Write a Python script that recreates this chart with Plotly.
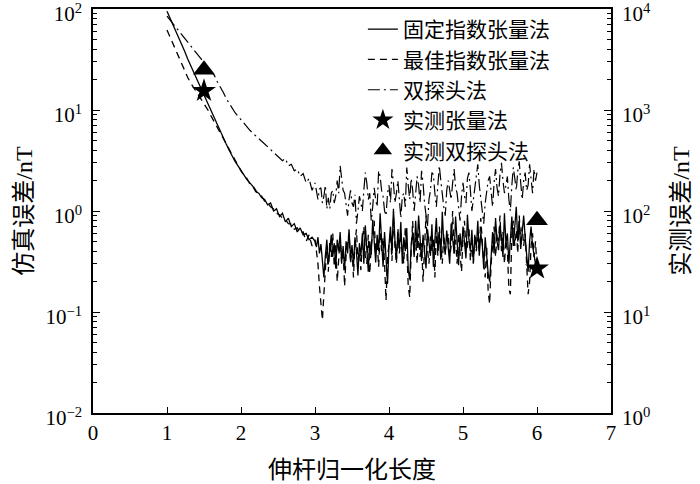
import plotly.graph_objects as go

# x grid: normalized boom length (coarse on the smooth part, fine on the noisy part)
x_smooth = [round(1 + 0.04 * i, 2) for i in range(50)]      # 1.00 .. 2.96
x_noisy = [round(3 + 0.02 * i, 2) for i in range(151)]      # 3.00 .. 6.00
x_vals = x_smooth + x_noisy

fixed_smooth = [
    95, 82, 70, 60, 52, 44, 38, 32, 27.5, 23.5,
    20.5, 17.5, 15.2, 13.0, 11.2, 9.6, 8.3, 7.1, 6.1, 5.3,
    4.6, 4.0, 3.5, 3.1, 2.8, 2.5, 2.3, 2.05, 1.9, 1.75,
    1.55, 1.5, 1.35, 1.3, 1.15, 1.2, 1.0, 1.05, 0.88, 0.95,
    0.78, 0.85, 0.7, 0.75, 0.62, 0.68, 0.58, 0.6, 0.52, 0.55,
]
fixed_noisy = [
    0.5, 0.44, 0.55, 0.38, 0.47, 0.33, 0.22, 0.36, 0.52, 0.3,
    0.42, 0.58, 0.35, 0.48, 0.27, 0.52, 0.4, 0.62, 0.31, 0.45,
    0.26, 0.5, 0.38, 0.66, 0.34, 0.46, 0.29, 0.55, 0.4, 0.23,
    0.48, 0.36, 0.6, 0.3, 0.72, 0.42, 0.25, 0.5, 0.37, 0.82,
    0.44, 0.31, 0.58, 0.4, 0.95, 0.5, 0.28, 0.62, 0.35, 0.19,
    0.46, 0.7, 0.38, 1.05, 0.52, 0.33, 0.6, 0.42, 0.78, 0.3,
    0.55, 0.4, 0.68, 0.26, 0.21, 0.47, 0.62, 0.35, 0.8, 0.43,
    0.9, 0.5, 0.32, 0.58, 0.41, 0.27, 0.66, 0.45, 0.36, 0.74,
    0.28, 0.52, 0.85, 0.4, 0.6, 0.33, 0.98, 0.48, 0.37, 0.64,
    0.42, 0.3, 0.75, 0.5, 0.38, 0.88, 0.46, 0.29, 0.6, 0.4,
    0.7, 0.45, 0.34, 0.92, 0.52, 0.4, 0.65, 0.31, 0.56, 0.43,
    0.8, 0.36, 0.6, 0.47, 0.27, 0.55, 0.33, 0.24, 0.2, 0.42,
    0.62, 0.38, 0.85, 0.5, 0.41, 0.72, 0.55, 0.35, 0.95, 0.48,
    0.6, 0.3, 0.52, 0.88, 0.45, 0.7, 1.1, 0.5, 0.78, 0.42,
    0.65, 0.9, 0.55, 0.36, 0.25, 0.5, 0.7, 0.45, 0.38, 0.3,
    0.28,
]

best_smooth = [
    62, 53, 45, 38, 33, 28, 24, 21, 18.5, 16.5,
    15, 13.5, 12.2, 11.0, 9.8, 8.6, 7.6, 6.7, 5.9, 5.2,
    4.6, 4.0, 3.5, 3.1, 2.75, 2.5, 2.25, 2.1, 1.85, 1.78,
    1.6, 1.45, 1.4, 1.25, 1.2, 1.1, 1.05, 0.95, 0.92, 0.85,
    0.82, 0.75, 0.74, 0.66, 0.68, 0.6, 0.62, 0.5, 0.58, 0.45,
]
best_noisy = [
    0.52, 0.4, 0.3, 0.18, 0.12, 0.083, 0.15, 0.3, 0.45, 0.25,
    0.5, 0.35, 0.6, 0.28, 0.46, 0.2, 0.38, 0.55, 0.3, 0.42,
    0.18, 0.36, 0.5, 0.6, 0.3, 0.42, 0.22, 0.48, 0.66, 0.33,
    0.4, 0.26, 0.52, 0.7, 0.35, 0.3, 0.58, 0.24, 0.45, 0.6,
    0.8, 0.38, 0.5, 0.28, 0.62, 0.4, 0.55, 0.3, 0.13, 0.35,
    0.5, 0.62, 0.32, 0.9, 0.45, 0.3, 0.68, 0.38, 0.55, 0.42,
    0.3, 0.7, 0.45, 0.18, 0.14, 0.4, 0.8, 0.36, 0.55, 0.3,
    0.6, 0.35, 0.48, 0.2, 0.5, 0.9, 0.42, 0.3, 0.56, 0.4,
    0.55, 0.22, 0.68, 0.36, 0.7, 0.45, 0.3, 0.6, 0.4, 0.5,
    0.6, 0.35, 0.45, 1.0, 0.38, 0.52, 0.3, 0.6, 0.42, 0.25,
    0.55, 0.8, 0.4, 0.45, 0.7, 0.32, 0.5, 0.3, 0.6, 0.4,
    0.55, 0.4, 0.85, 0.48, 0.3, 0.22, 0.45, 0.16, 0.12, 0.3,
    0.45, 0.7, 0.35, 0.6, 0.5, 0.9, 0.4, 0.62, 0.3, 0.52,
    0.4, 0.17, 0.15, 0.6, 0.8, 0.45, 0.65, 0.38, 0.9, 0.5,
    0.7, 0.45, 0.6, 0.3, 0.15, 0.2, 0.45, 0.6, 0.35, 0.5,
    0.27,
]

dual_smooth = [
    85, 78, 72, 66, 60, 55.5, 51, 47, 43, 39,
    36, 33, 30.5, 28, 26, 24, 22, 19, 17, 15,
    13, 11.7, 10.3, 9.4, 8.7, 8.0, 7.4, 6.8, 6.3, 5.9,
    5.5, 5.2, 4.9, 4.6, 4.3, 4.0, 3.8, 3.55, 3.35, 3.15,
    3.3, 2.8, 2.9, 2.5, 2.6, 2.2, 2.35, 1.9, 2.1, 1.6,
]
dual_noisy = [
    1.9, 1.5, 1.3, 1.65, 1.7, 1.2, 1.4, 1.8, 1.05, 1.35,
    1.05, 1.5, 1.6, 1.2, 1.4, 2.0, 1.5, 2.8, 2.2, 1.6,
    1.5, 1.1, 0.9, 1.3, 1.6, 1.2, 1.1, 1.45, 0.75, 1.0,
    1.4, 1.2, 1.0, 1.6, 2.4, 1.9, 1.3, 1.5, 0.8, 1.1,
    1.7, 1.3, 1.1, 2.5, 2.2, 1.6, 1.4, 1.0, 0.9, 1.5,
    1.8, 1.2, 2.6, 1.9, 1.2, 1.5, 2.0, 1.3, 0.85, 1.4,
    1.5, 1.1, 2.7, 1.8, 1.3, 2.1, 1.6, 1.0, 1.4, 2.2,
    1.8, 1.2, 2.5, 1.9, 1.2, 0.9, 0.7, 1.3, 1.6, 2.4,
    2.3, 1.5, 1.1, 1.8, 2.8, 2.0, 1.4, 1.1, 0.9, 1.6,
    2.0, 1.5, 1.3, 1.9, 2.6, 1.7, 1.5, 1.1, 0.8, 1.4,
    1.9, 1.4, 1.2, 2.1, 2.4, 1.6, 1.0, 1.3, 1.7, 2.2,
    2.9, 1.8, 1.3, 1.0, 0.75, 1.2, 1.6, 2.0, 2.2, 1.5,
    1.1, 1.9, 2.6, 1.7, 1.4, 2.3, 3.0, 2.0, 1.5, 1.8,
    2.2, 1.3, 1.0, 1.8, 2.7, 2.1, 1.6, 2.5, 3.1, 1.9,
    1.3, 2.0, 2.4, 1.6, 1.8, 2.9, 2.2, 1.5, 2.6, 2.0,
    2.4,
]

fixed_tensor = fixed_smooth + fixed_noisy
best_tensor = best_smooth + best_noisy
dual_probe = dual_smooth + dual_noisy

# measured values (right axis, nT)
meas_x = [1.5, 6.0]
meas_tensor = [1550, 27]
meas_dual = [2500, 81]

series_names = ["固定指数张量法", "最佳指数张量法", "双探头法", "实测张量法", "实测双探头法"]
x_ticks = [0, 1, 2, 3, 4, 5, 6, 7]
left_ticks = [0.01, 0.1, 1, 10, 100]
left_labels = ["10<sup>−2</sup>", "10<sup>−1</sup>", "10<sup>0</sup>", "10<sup>1</sup>", "10<sup>2</sup>"]
right_ticks = [1, 10, 100, 1000, 10000]
right_labels = ["10<sup>0</sup>", "10<sup>1</sup>", "10<sup>2</sup>", "10<sup>3</sup>", "10<sup>4</sup>"]

FONT = "Liberation Serif, Noto Sans CJK SC"

fig = go.Figure()
fig.add_trace(go.Scatter(x=x_vals, y=fixed_tensor, mode="lines", name=series_names[0],
                         line=dict(color="black", width=1.3)))
fig.add_trace(go.Scatter(x=x_vals, y=best_tensor, mode="lines", name=series_names[1],
                         line=dict(color="black", width=1.3, dash="7px,5px")))
fig.add_trace(go.Scatter(x=x_vals, y=dual_probe, mode="lines", name=series_names[2],
                         line=dict(color="black", width=1.2, dash="12px,4px,2px,4px")))
fig.add_trace(go.Scatter(x=meas_x, y=meas_tensor, mode="markers", name=series_names[3], yaxis="y2",
                         marker=dict(symbol="star", size=18, color="black")))
fig.add_trace(go.Scatter(x=meas_x, y=meas_dual, mode="markers", name=series_names[4], yaxis="y2",
                         marker=dict(symbol="triangle-up", size=19, color="black")))

axis_common = dict(showline=True, linecolor="black", linewidth=1.5, ticks="inside",
                   tickcolor="black", showgrid=False, zeroline=False, automargin=False,
                   ticklabeloverflow="allow",
                   tickfont=dict(family=FONT, size=21, color="black"))

fig.update_layout(
    width=700, height=484,
    margin=dict(l=93, r=89, t=9, b=71),
    paper_bgcolor="white", plot_bgcolor="white",
    font=dict(family=FONT, size=20, color="black"),
    xaxis=dict(range=[0, 7], tickvals=x_ticks, mirror=True, ticklen=6, ticklabelstandoff=0,
               title=dict(text="伸杆归一化长度", font=dict(family=FONT, size=24), standoff=17),
               **axis_common),
    yaxis=dict(type="log", range=[-2, 2], tickmode="array", tickvals=left_ticks, ticktext=left_labels,
               ticklen=7, ticklabelstandoff=5, ticklabelshift=5,
               minor=dict(ticks="inside", ticklen=4, dtick="D1", tickcolor="black"),
               title=dict(text="仿真误差/nT", font=dict(family=FONT, size=24), standoff=6),
               **axis_common),
    yaxis2=dict(type="log", range=[0, 4], overlaying="y", side="right", tickmode="array",
                tickvals=right_ticks, ticktext=right_labels, ticklen=7, ticklabelstandoff=5,
                ticklabelshift=5,
                minor=dict(ticks="inside", ticklen=4, dtick="D1", tickcolor="black"),
                title=dict(text="实测误差/nT", font=dict(family=FONT, size=24), standoff=22),
                **axis_common),
    legend=dict(x=0.521, y=1.0, xanchor="left", yanchor="top", bgcolor="rgba(0,0,0,0)",
                font=dict(family=FONT, size=21, color="black"), borderwidth=0),
    showlegend=True,
)

fig.write_html("out.html", config={"displayModeBar": False},
               post_script="document.body.style.margin='0px';")
